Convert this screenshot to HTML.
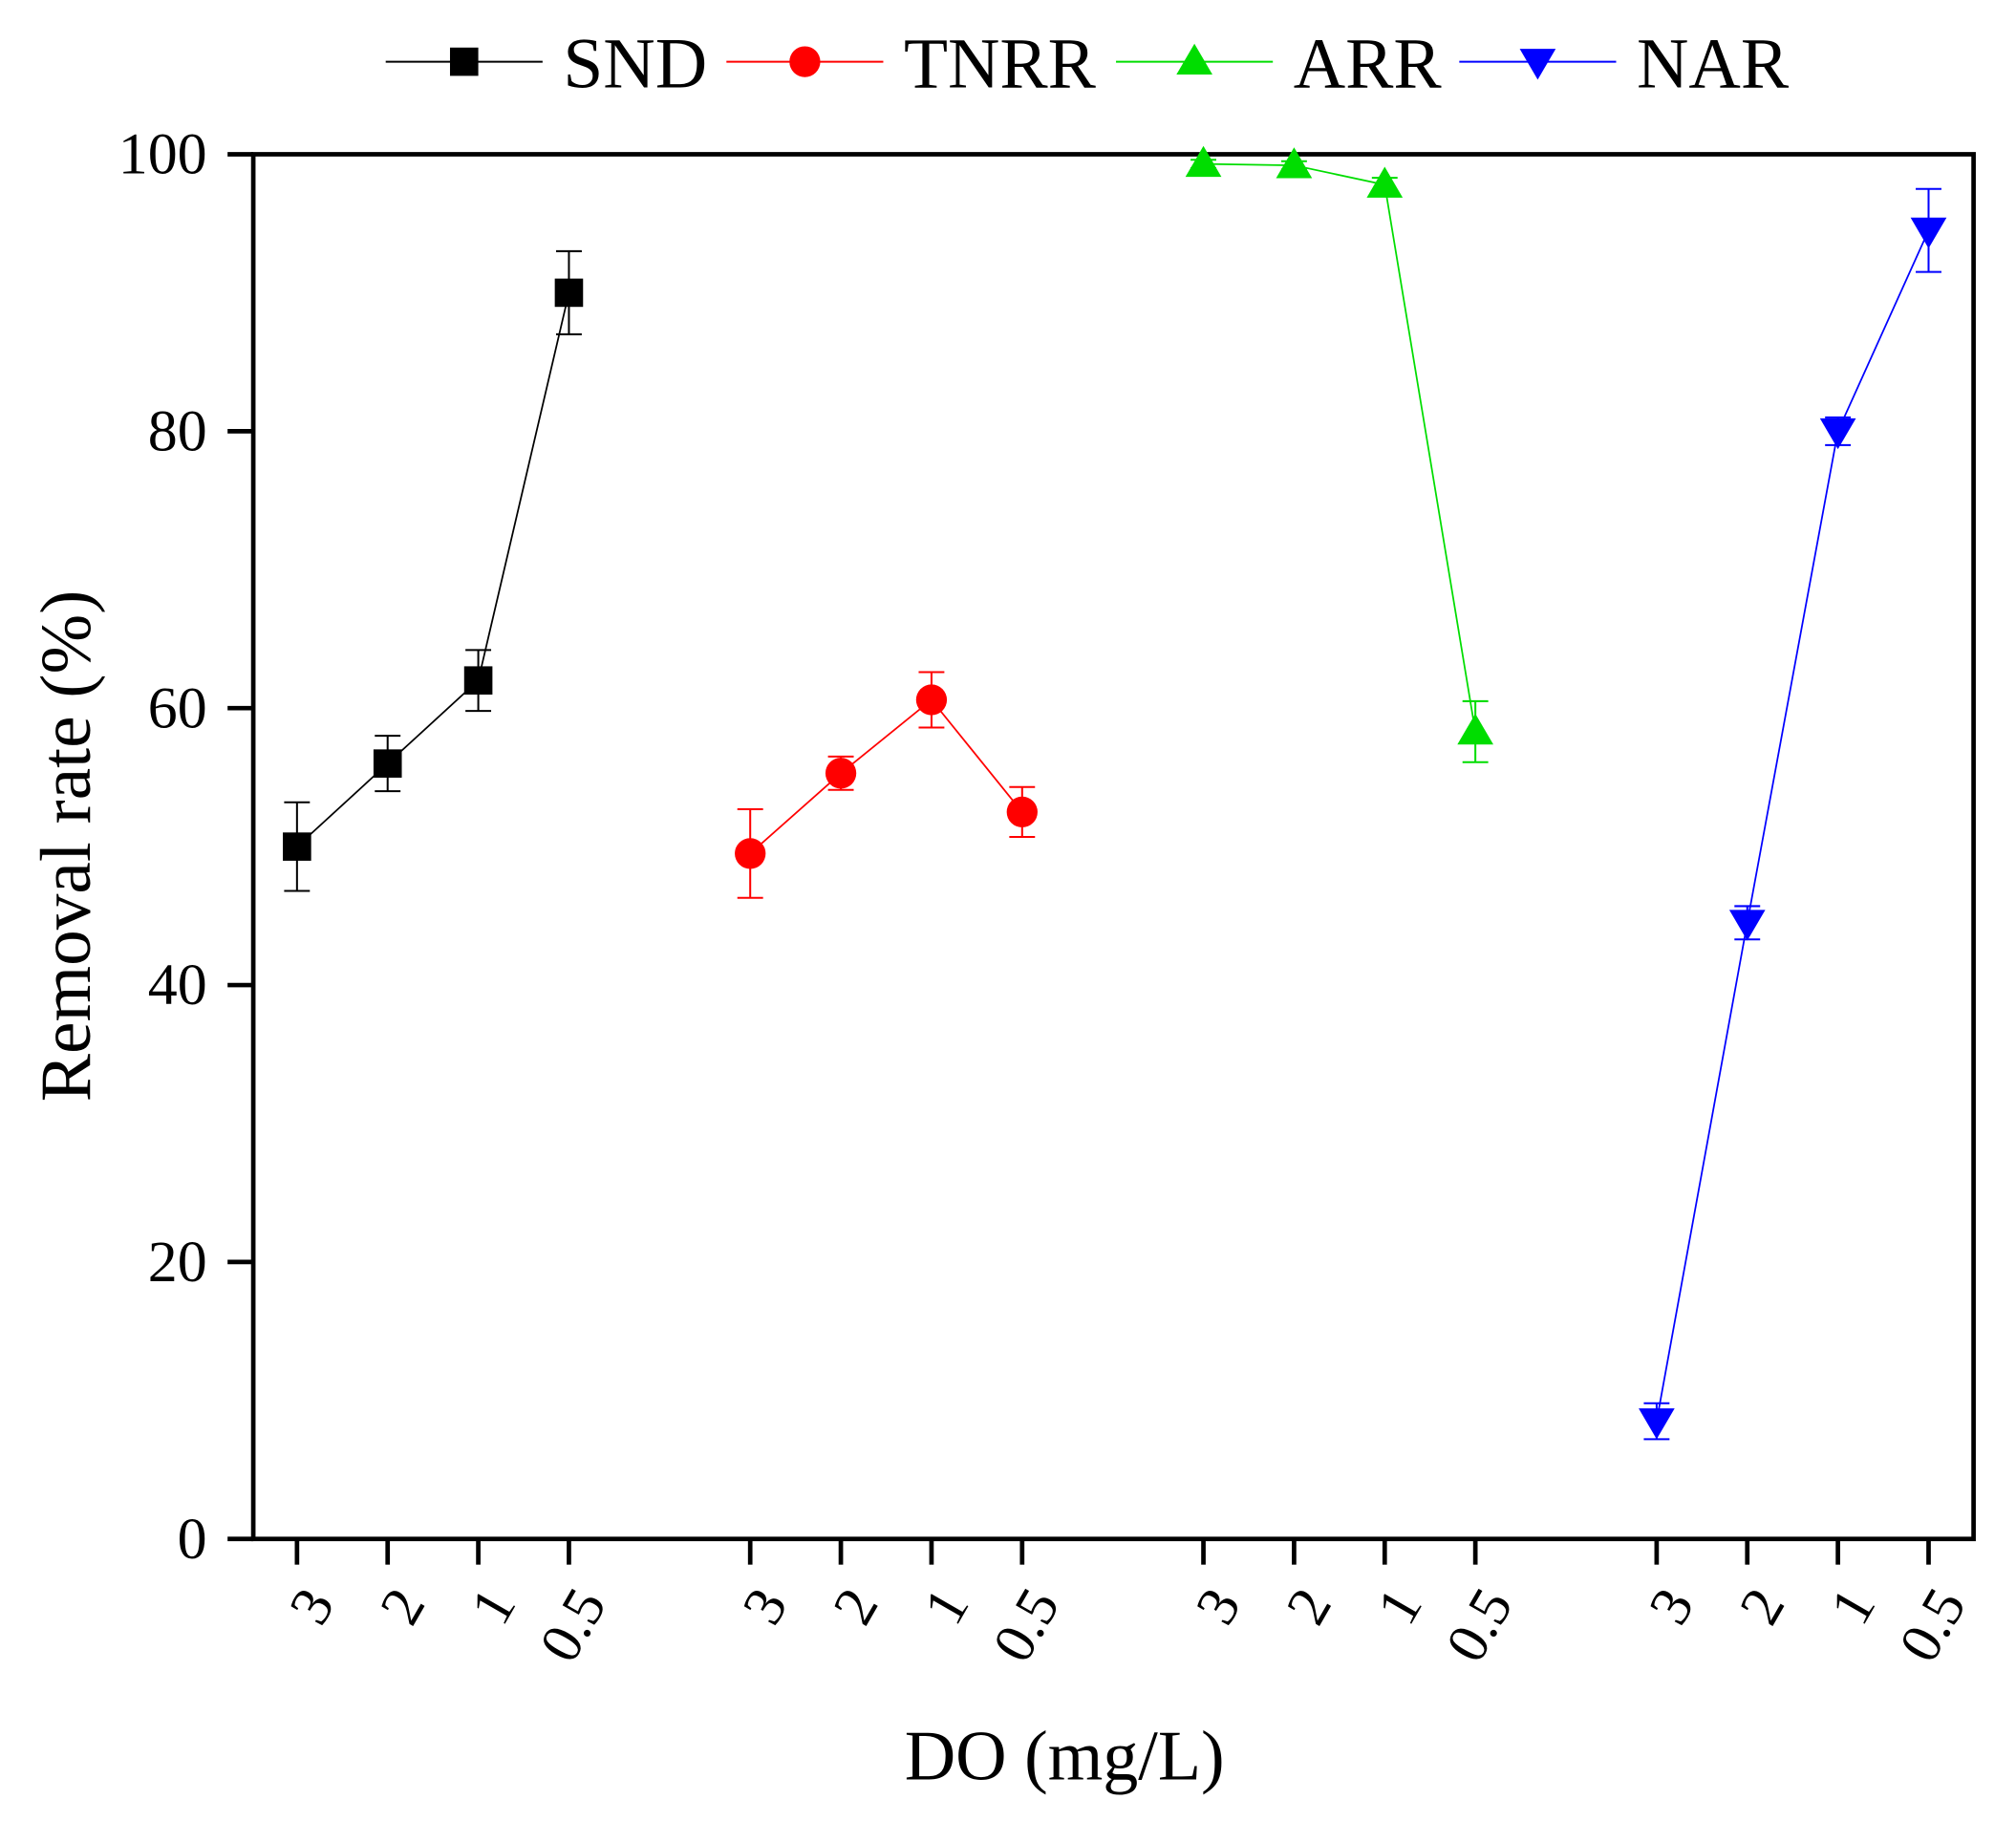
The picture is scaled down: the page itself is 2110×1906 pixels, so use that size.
<!DOCTYPE html>
<html><head><meta charset="utf-8"><style>
html,body{margin:0;padding:0;background:#fff}
svg{display:block;font-family:"Liberation Serif",serif}
</style></head><body>
<svg id="chart" width="2110" height="1906" viewBox="0 0 1568 1416.4" preserveAspectRatio="none" xmlns="http://www.w3.org/2000/svg">
<g id="legend"></g>
<g id="plot"></g>
<text transform="translate(70,658) rotate(-90)" text-anchor="middle" font-size="56">Removal rate (%)</text>
<text x="828" y="1384" text-anchor="middle" font-size="55">DO (mg/L)</text>
</svg>
<script>
const seriesNames = ["SND","TNRR","ARR","NAR"];
const categories = ["3","2","1","0.5"];
const sndValues = [50, 56, 62, 90];
const sndErrors = [3.2, 2.0, 2.2, 3.0];
const tnrrValues = [49.5, 55.3, 60.6, 52.5];
const tnrrErrors = [3.2, 1.2, 2.0, 1.8];
const arrValues = [99.3, 99.2, 97.8, 58.3];
const arrErrors = [0.3, 0.3, 0.5, 2.2];
const narValues = [8.5, 44.5, 80, 94.5];
const narErrors = [1.3, 1.2, 1.0, 3.0];
const yTicks = [0, 20, 40, 60, 80, 100];

const NS = "http://www.w3.org/2000/svg";
const L = 197, R = 1535, T = 120, B = 1197;
function yScale(v){ return B - (v/100)*(B-T); }
function xScale(slot){ return 231 + slot*70.5; }
function mk(tag, attrs, parent){ const e=document.createElementNS(NS,tag); for(const k in attrs) e.setAttribute(k,attrs[k]); parent.appendChild(e); return e; }

const plot = document.getElementById('plot');
const legend = document.getElementById('legend');
const colors = ["#000000","#ff0000","#00dd00","#0000ff"];
const all = [[sndValues,sndErrors],[tnrrValues,tnrrErrors],[arrValues,arrErrors],[narValues,narErrors]];

function marker(type, x, y, c, parent){
  let e;
  if(type===0) e = mk('rect',{x:x-11,y:y-11,width:22,height:22,fill:c},parent);
  else if(type===1) e = mk('circle',{cx:x,cy:y,r:12,fill:c},parent);
  else if(type===2) e = mk('polygon',{points:`${x},${y-14} ${x+14},${y+10} ${x-14},${y+10}`,fill:c},parent);
  else e = mk('polygon',{points:`${x},${y+14} ${x+14},${y-10} ${x-14},${y-10}`,fill:c},parent);
  return e;
}

const frame = mk('rect',{x:L,y:T,width:R-L,height:B-T,fill:'none',stroke:'#000','stroke-width':3.5},plot);



yTicks.forEach(v=>{
  const y=yScale(v);
  const t=mk('line',{x1:177,x2:L,y1:y,y2:y,stroke:'#000','stroke-width':3.5},plot);
  
  
  const lb=mk('text',{x:161,y:y+15,'text-anchor':'end','font-size':46},plot);
  
  
  lb.textContent=v;
});

all.forEach((s,g)=>{
  const [vals,errs]=s; const c=colors[g];
  const pts = vals.map((v,j)=>[xScale(g*5+j), yScale(v)]);
  categories.forEach((cat,j)=>{
    const x=xScale(g*5+j);
    const t=mk('line',{x1:x,x2:x,y1:B,y2:B+20,stroke:'#000','stroke-width':3.5},plot);
    
    
    const lb=mk('text',{transform:`translate(${x+30},${B+50}) rotate(-60)`,'text-anchor':'end','font-size':45},plot);
    
    
    lb.textContent=cat;
  });
  const line=mk('polyline',{points:pts.map(p=>p.join(',')).join(' '),fill:'none',stroke:c,'stroke-width':1.3},plot);
  
  
  vals.forEach((v,j)=>{
    const x=pts[j][0], y1=yScale(v+errs[j]), y2=yScale(v-errs[j]);
    const eb=mk('path',{d:`M${x},${y1}V${y2}M${x-10},${y1}H${x+10}M${x-10},${y2}H${x+10}`,stroke:c,'stroke-width':1.5,fill:'none'},plot);
    
    
    const m=marker(g,x,pts[j][1],c,plot);
    
    
  });
  const lx=[300,565,868,1135][g];
  const ll=mk('line',{x1:lx,x2:lx+122,y1:48,y2:48,stroke:c,'stroke-width':1.5},legend);
  
  
  const lm=marker(g,lx+61,48,c,legend);
  
  
  const lt=mk('text',{x:lx+138,y:68,'font-size':56},legend);
  
  
  lt.textContent=seriesNames[g];
});
</script>
</body></html>
